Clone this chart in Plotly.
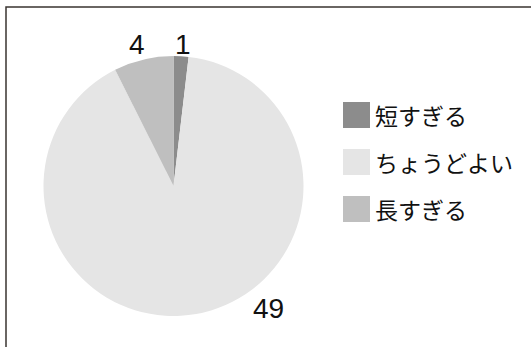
import plotly.graph_objects as go

# Survey answers: length of the session
categories = ["短すぎる", "ちょうどよい", "長すぎる"]
counts = [1, 49, 4]
colors = ["#8c8c8c", "#e5e5e5", "#bfbfbf"]

W, H = 531, 347

def px(x):
    return x / W

def py(y):
    return 1 - y / H

fig = go.Figure(
    go.Pie(
        labels=categories,
        values=counts,
        sort=False,
        direction="clockwise",
        rotation=0,
        marker=dict(colors=colors, line=dict(width=0)),
        textinfo="none",
        hoverinfo="label+value",
        showlegend=False,
        domain=dict(x=[px(43), px(304)], y=[py(316), py(56)]),
    )
)

# value labels placed around the pie (pixel anchors)
label_pos = [(183, 44), (268, 308), (137, 44)]
annotations = []
for (lx, ly), v in zip(label_pos, counts):
    annotations.append(dict(
        x=px(lx), y=py(ly), xref="paper", yref="paper",
        text=str(v), showarrow=False, xanchor="center", yanchor="middle",
        font=dict(family="Liberation Sans, Arial, sans-serif", size=28, color="#111111"),
    ))

# hand-built legend with large square swatches
shapes = []
row_y = [115, 162, 209]
for cat, col, ry in zip(categories, colors, row_y):
    shapes.append(dict(
        type="rect", xref="paper", yref="paper",
        x0=px(343), x1=px(370), y0=py(ry + 13), y1=py(ry - 13),
        fillcolor=col, line=dict(width=0),
    ))
    annotations.append(dict(
        x=px(373), y=py(ry), xref="paper", yref="paper",
        text=cat, showarrow=False, xanchor="left", yanchor="middle",
        font=dict(family="Noto Sans CJK JP, sans-serif", size=23, color="#111111"),
    ))

# chart frame
shapes.append(dict(
    type="rect", xref="paper", yref="paper",
    x0=px(6), x1=px(W + 5), y0=py(H + 5), y1=py(7),
    line=dict(color="#3a3430", width=1.5), fillcolor="rgba(0,0,0,0)",
))

fig.update_layout(
    width=W, height=H,
    margin=dict(l=0, r=0, t=0, b=0),
    paper_bgcolor="white",
    plot_bgcolor="white",
    annotations=annotations,
    shapes=shapes,
)

fig.write_html("out.html")
